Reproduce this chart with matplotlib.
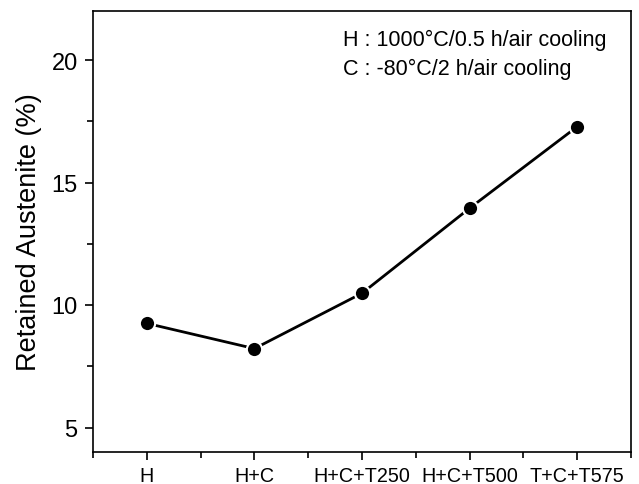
import matplotlib
matplotlib.use("Agg")
import matplotlib.pyplot as plt
from matplotlib.ticker import MultipleLocator

plt.rcParams['font.family'] = ['Liberation Sans', 'DejaVu Sans']

categories = ["H", "H+C", "H+C+T250", "H+C+T500", "T+C+T575"]
retained = [9.25, 8.22, 10.48, 13.95, 17.28]
note_lines = ["H : 1000\u00b0C/0.5 h/air cooling", "C : -80\u00b0C/2 h/air cooling"]

fig = plt.figure(figsize=(6.39, 4.85), dpi=100)
ax = fig.add_axes([93/639, 1 - 453/485, (631-93)/639, (453-12)/485])

x = list(range(len(categories)))
ax.plot(x, retained, color='black', lw=2, marker='o', ms=11, mfc='black',
        mec='white', mew=1.5)

ax.set_xlim(-0.5, len(categories) - 0.5)
ax.set_ylim(4, 22)
ax.set_xticks(x)
ax.set_xticklabels(categories, fontsize=14.2)
ax.xaxis.set_minor_locator(MultipleLocator(0.5))
ax.yaxis.set_major_locator(MultipleLocator(5))
ax.yaxis.set_minor_locator(MultipleLocator(2.5))
ax.tick_params(axis='y', labelsize=17, pad=5)
ax.tick_params(axis='x', pad=4)
ax.tick_params(which='major', length=6, width=1.2, direction='out')
ax.tick_params(which='minor', length=4, width=1.2, direction='out')
for s in ax.spines.values():
    s.set_linewidth(1.2)
ax.set_ylabel("Retained Austenite (%)", fontsize=19.5, labelpad=7)

ax.text(0.465, 0.923, note_lines[0], transform=ax.transAxes, fontsize=15.5, va='baseline')
ax.text(0.465, 0.857, note_lines[1], transform=ax.transAxes, fontsize=15.5, va='baseline')

fig.savefig("out.png", dpi=100)
